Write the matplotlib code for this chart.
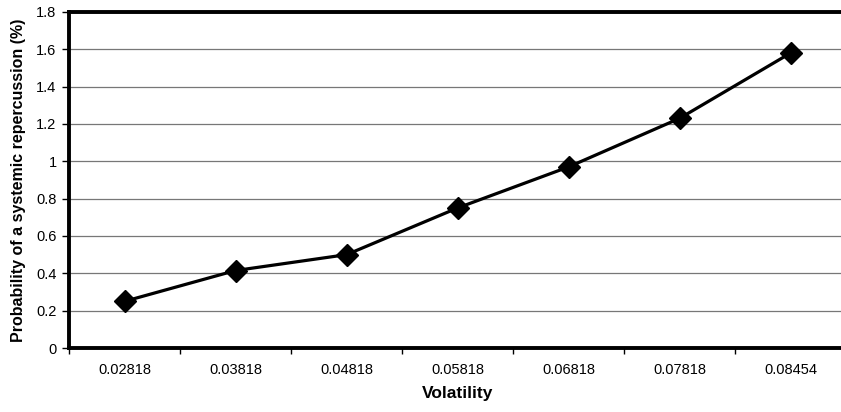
import matplotlib
matplotlib.use("Agg")
import matplotlib.pyplot as plt

# chart data
volatility = ["0.02818", "0.03818", "0.04818", "0.05818", "0.06818", "0.07818", "0.08454"]
probability = [0.25, 0.415, 0.50, 0.75, 0.97, 1.23, 1.58]

plt.rcParams["font.family"] = ["Liberation Sans", "DejaVu Sans"]

fig = plt.figure(figsize=(8.41, 4.12), dpi=100)
ax = fig.add_axes([69 / 841, 64 / 412, 777 / 841, 336 / 412])

x = list(range(len(volatility)))
ax.plot(x, probability, color="black", lw=2.3, marker="D", ms=11.5,
        markerfacecolor="black", zorder=3)

ax.set_xlim(-0.5, len(volatility) - 0.5)
ax.set_ylim(0, 1.8)
ax.set_yticks([i * 0.2 for i in range(10)])
ax.set_yticklabels(["0", "0.2", "0.4", "0.6", "0.8", "1", "1.2", "1.4", "1.6", "1.8"],
                   fontsize=10.5)
ax.yaxis.grid(True, color="#777777", lw=0.9)
ax.set_axisbelow(True)

# category labels centred, ticks at the boundaries
ax.set_xticks([i - 0.5 for i in range(len(volatility) + 1)])
ax.set_xticklabels([])
ax.set_xticks(x, minor=True)
ax.set_xticklabels(volatility, minor=True, fontsize=10.5)
ax.tick_params(axis="x", which="minor", length=0, pad=11)
ax.tick_params(axis="x", which="major", length=4, width=1)
ax.tick_params(axis="y", length=5, width=1, pad=4)

for s in ["left", "bottom", "top"]:
    ax.spines[s].set_linewidth(2.8)
ax.spines["right"].set_visible(False)

ax.set_xlabel("Volatility", fontsize=12.5, fontweight="bold", labelpad=6)
ax.set_ylabel("Probability of a systemic repercussion (%)", fontsize=11.5,
              fontweight="bold", labelpad=7)

fig.savefig("out.png", dpi=100)
